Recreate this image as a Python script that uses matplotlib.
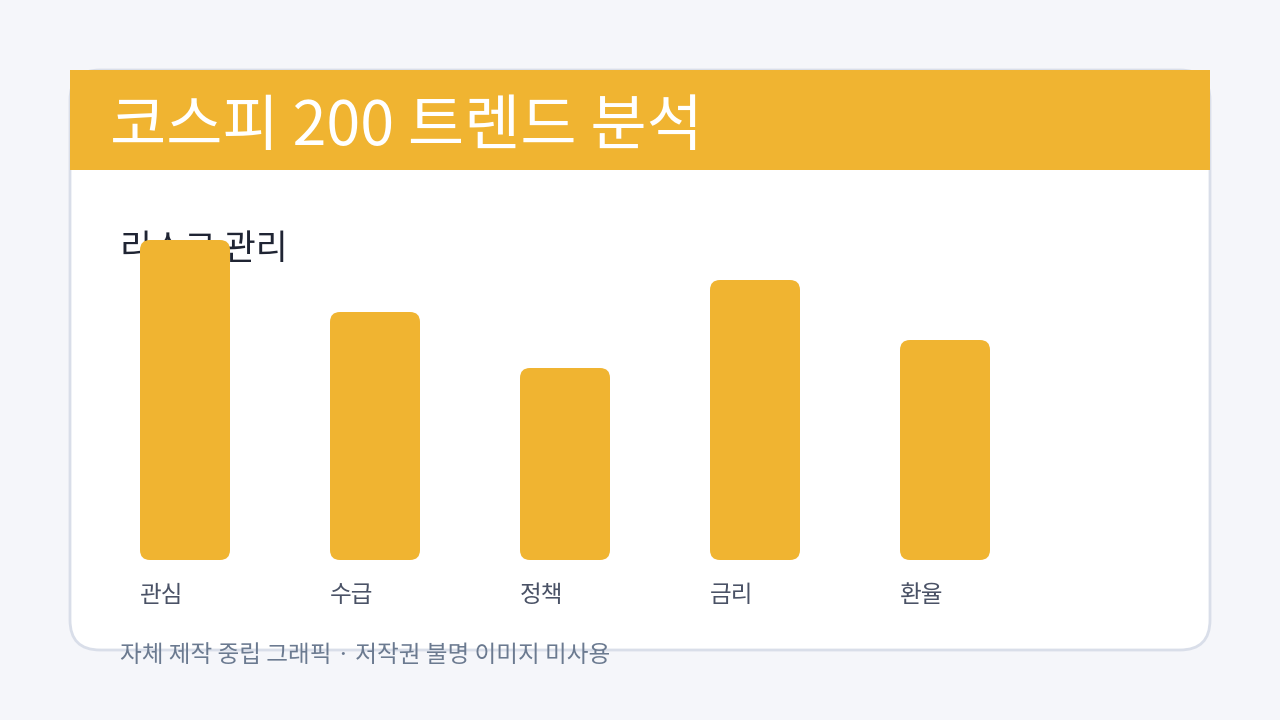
import matplotlib
matplotlib.use("Agg")
import matplotlib.pyplot as plt
from matplotlib.patches import FancyBboxPatch, Rectangle

plt.rcParams['font.family'] = ['Noto Sans CJK KR', 'DejaVu Sans']

title = "코스피 200 트렌드 분석"
subtitle = "리스크 관리"
categories = ["관심", "수급", "정책", "금리", "환율"]
values = [320, 248, 192, 280, 220]
footer = "자체 제작 중립 그래픽 · 저작권 불명 이미지 미사용"

W, H = 1280, 720
fig = plt.figure(figsize=(12.8, 7.2), dpi=100)
fig.patch.set_facecolor("#f5f6fa")

bg = fig.add_axes([0, 0, 1, 1])
bg.set_xlim(0, W); bg.set_ylim(H, 0); bg.axis("off")
bg.add_patch(FancyBboxPatch((70, 70), 1140, 580, boxstyle="round,pad=0,rounding_size=30",
                            fc="white", ec="#d9dee9", lw=2))
bg.add_patch(Rectangle((70, 70), 1140, 100, fc="#f0b431", ec="none"))
bg.text(110, 128, title, color="white", fontsize=44, va="center", ha="left")
bg.text(120, 250, subtitle, color="#1f2433", fontsize=25, va="center", ha="left", zorder=1)
bg.text(120, 656, footer, color="#6b7a90", fontsize=17, va="center", ha="left")

# bar axes: pixel x 90..1180, y 240..560
ax = fig.add_axes([90 / W, (H - 560) / H, 1090 / W, 320 / H])
ax.set_xlim(-0.5, (1180 - 185) / 190)
ax.set_ylim(0, 320)
ax.axis("off")
ax.patch.set_alpha(0)
bw = 90 / 190
r = 10 / 190
bars = ax.bar(range(len(values)), values, width=bw, color="none")
for i, b in enumerate(bars):
    ax.add_patch(FancyBboxPatch((b.get_x(), 0), b.get_width(), b.get_height(),
                                boxstyle=f"round,pad=0,rounding_size={r}",
                                mutation_aspect=190, fc="#f0b431", ec="none", zorder=2))
    ax.text(b.get_x(), -36, categories[i], color="#4a5266", fontsize=17,
            ha="left", va="center", clip_on=False)

fig.savefig("out.png", dpi=100, facecolor=fig.get_facecolor())
